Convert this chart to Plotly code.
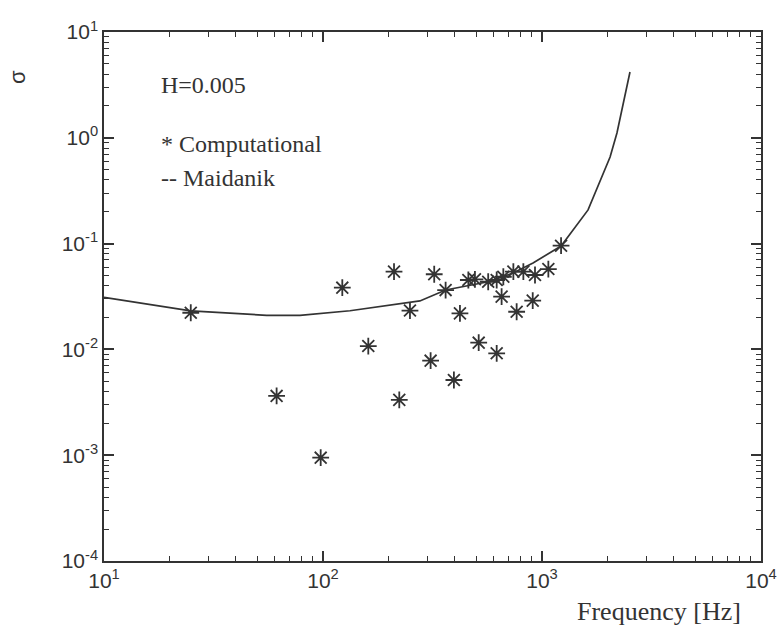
import plotly.graph_objects as go

# Computational results (frequency in Hz, radiation efficiency sigma)
comp_freq = [24.9, 61.4, 97.6, 122.5, 161, 211, 223, 249.5, 322, 363, 422, 310, 396,
             514, 621, 461, 494, 568, 621, 666, 654, 740, 766, 822, 907, 929, 1069, 1222]
comp_sigma = [0.0222, 0.00363, 0.000947, 0.0383, 0.01076, 0.0543, 0.00333, 0.0233,
              0.0513, 0.0364, 0.0219, 0.00782, 0.00514, 0.01157, 0.00919, 0.0453,
              0.046, 0.0436, 0.0453, 0.0486, 0.0315, 0.0543, 0.0227, 0.0543, 0.0289,
              0.0505, 0.0575, 0.0955]

# Maidanik curve
maid_freq = [10, 24.9, 55.3, 78.5, 132.8, 277, 363, 568, 738, 910, 1222, 1493, 1623, 2046, 2199, 2522]
maid_sigma = [0.0310, 0.0231, 0.0210, 0.0210, 0.0232, 0.0287, 0.0364, 0.0436, 0.0527,
              0.0656, 0.0949, 0.167, 0.208, 0.659, 1.11, 4.19]

x_ticks = [10, 100, 1000, 10000]
x_ticktext = ["10<sup>1</sup>", "10<sup>2</sup>", "10<sup>3</sup>", "10<sup>4</sup>"]
y_ticks = [1e-4, 1e-3, 1e-2, 1e-1, 1, 10]
y_ticktext = ["10<sup>-4</sup>", "10<sup>-3</sup>", "10<sup>-2</sup>", "10<sup>-1</sup>",
              "10<sup>0</sup>", "10<sup>1</sup>"]

INK = "#333333"

fig = go.Figure()
fig.add_trace(go.Scatter(x=maid_freq, y=maid_sigma, mode="lines",
                         line=dict(color=INK, width=1.7), showlegend=False))
fig.add_trace(go.Scatter(x=comp_freq, y=comp_sigma, mode="markers",
                         marker=dict(symbol="asterisk-open", size=14, color=INK,
                                     line=dict(color=INK, width=1.8)),
                         showlegend=False))

axis_common = dict(showline=True, linecolor=INK, linewidth=1.5, mirror="allticks",
                   ticks="inside", ticklen=10, tickcolor=INK, tickwidth=1.6,
                   showgrid=False, zeroline=False, layer="above traces",
                   tickfont=dict(family="Liberation Sans", size=21, color=INK))

minor_common = dict(dtick="D1", ticks="inside", ticklen=5, tickcolor=INK,
                    tickwidth=1.2, showgrid=False)

fig.update_xaxes(type="log", range=[1, 4], dtick=1, tickmode="linear", tick0=0,
                 ticktext=None, minor=minor_common, **axis_common)
fig.update_yaxes(type="log", range=[-4, 1], dtick=1, tickmode="linear", tick0=0,
                 minor=minor_common, **axis_common)
fig.update_xaxes(tickmode="array", tickvals=x_ticks, ticktext=x_ticktext)
fig.update_yaxes(tickmode="array", tickvals=y_ticks, ticktext=y_ticktext)

serif = dict(family="Liberation Serif", size=24, color=INK)
fig.add_annotation(text="H=0.005", x=0.0837, y=0.8998, xref="paper", yref="paper",
                   xanchor="left", yanchor="middle", showarrow=False, font=serif)
fig.add_annotation(text="* Computational", x=0.0837, y=0.7883, xref="paper", yref="paper",
                   xanchor="left", yanchor="middle", showarrow=False, font=serif)
fig.add_annotation(text="-- Maidanik", x=0.0837, y=0.724, xref="paper", yref="paper",
                   xanchor="left", yanchor="middle", showarrow=False, font=serif)
fig.add_annotation(text="σ", x=-0.1309, y=0.915, xref="paper", yref="paper",
                   xanchor="center", yanchor="middle", showarrow=False, textangle=-90,
                   font=dict(family="Liberation Sans", size=22, color=INK))
fig.add_annotation(text="Frequency [Hz]", x=0.9726, y=-0.0964, xref="paper", yref="paper",
                   xanchor="right", yanchor="middle", showarrow=False,
                   font=dict(family="Liberation Serif", size=26, color=INK))

fig.update_layout(template="none", width=780, height=626,
                  margin=dict(l=104, r=19, t=32, b=65),
                  paper_bgcolor="white", plot_bgcolor="white")

fig.write_html("out.html")
